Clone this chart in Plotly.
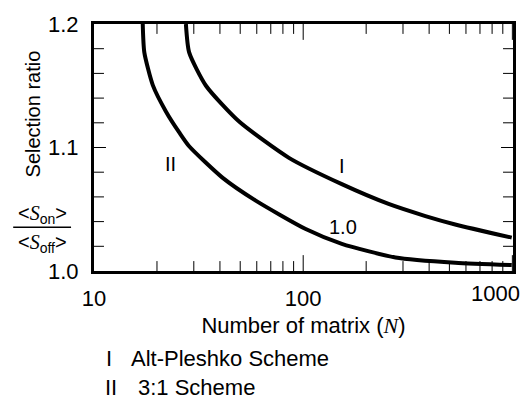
import math
import plotly.graph_objects as go

# Curve I: Alt-Pleshko scheme
n_alt = [27.5, 28.5, 34.3, 49.4, 85.5, 153, 256, 384, 533, 993]
ratio_alt = [1.200, 1.177, 1.150, 1.121, 1.0916, 1.0703, 1.0543, 1.0445, 1.0377, 1.027]

# Curve II: 3:1 scheme
n_31 = [17.1, 17.4, 19.1, 22.1, 25.6, 28.5, 41.1, 59.3, 102.8, 153, 276, 533, 993]
ratio_31 = [1.200, 1.177, 1.1505, 1.129, 1.112, 1.101, 1.0756, 1.057, 1.034, 1.022,
            1.011, 1.0067, 1.0048]

x_major = [10, 100, 1000]
x_major_text = ["10", "100", ""]
x_minor = [20, 30, 40, 50, 60, 70, 80, 90, 200, 300, 400, 500, 600, 700, 800, 900]
y_major = [1.0, 1.1, 1.2]
y_major_text = ["1.0", "1.1", "1.2"]
y_minor = [1.02, 1.04, 1.06, 1.08, 1.12, 1.14, 1.16, 1.18]

W, H = 528, 399
ML, MR, MT, MB = 94, 14, 22, 128
PW, PH = W - ML - MR, H - MT - MB
FONT = "Liberation Sans"
SERIF = "Liberation Serif"
FS = 22
FS_SMALL = 20
X_RANGE = [1, 3.003]
Y_RANGE = [1.0, 1.2]


def px(x):
    return (x - ML) / PW


def py(y):
    return (H - MB - y) / PH


def it(s):
    return f"<span style='font-family:{SERIF}'><i>{s}</i></span>"


# tick lengths in pixels, converted to axis units
Y_PER_PX = (Y_RANGE[1] - Y_RANGE[0]) / PH
DEC_PER_PX = (X_RANGE[1] - X_RANGE[0]) / PW

tick_x, tick_y = [], []
for vals, length in [(x_major[1:], 16), (x_minor, 10)]:
    dy = length * Y_PER_PX
    for v in vals:
        tick_x += [v, v, None, v, v, None]
        tick_y += [Y_RANGE[0], Y_RANGE[0] + dy, None, Y_RANGE[1], Y_RANGE[1] - dy, None]
for vals, length in [(y_major[1:-1], 12), (y_minor, 10)]:
    dd = length * DEC_PER_PX
    for v in vals:
        tick_x += [10 ** X_RANGE[0], 10 ** (X_RANGE[0] + dd), None,
                   10 ** X_RANGE[1], 10 ** (X_RANGE[1] - dd), None]
        tick_y += [v, v, None, v, v, None]

fig = go.Figure()
fig.add_trace(go.Scatter(x=tick_x, y=tick_y, mode="lines",
                         line=dict(color="black", width=1),
                         showlegend=False, hoverinfo="skip"))
for xs, ys in [(n_alt, ratio_alt), (n_31, ratio_31)]:
    fig.add_trace(go.Scatter(
        x=xs, y=ys, mode="lines",
        line=dict(color="black", width=4, shape="spline", smoothing=0.6),
        showlegend=False, hoverinfo="skip",
    ))

fig.update_layout(
    xaxis=dict(
        type="log", range=X_RANGE,
        tickmode="array", tickvals=x_major, ticktext=x_major_text, ticks="",
        mirror=True, showline=True, linewidth=3, linecolor="black",
        showgrid=False, zeroline=False, ticklabelstandoff=6,
        tickfont=dict(family=FONT, size=FS, color="black"),
        title=dict(text=f"Number of matrix ({it('N')})",
                   font=dict(family=FONT, size=FS, color="black"), standoff=8),
    ),
    yaxis=dict(
        range=Y_RANGE,
        tickmode="array", tickvals=y_major, ticktext=y_major_text, ticks="",
        mirror=True, showline=True, linewidth=3, linecolor="black",
        showgrid=False, zeroline=False, ticklabelstandoff=8,
        tickfont=dict(family=FONT, size=FS, color="black"),
    ),
)

txt = dict(family=FONT, size=FS, color="black")
txt_s = dict(family=FONT, size=FS_SMALL, color="black")
ann = []
# right-most x tick label, kept inside the page
ann.append(dict(x=math.log10(x_major[-1]), y=0, xref="x", yref="paper", text="1000",
                showarrow=False, xanchor="right", yanchor="top", xshift=10, yshift=-8,
                font=txt))
# curve labels
ann.append(dict(x=2.185, y=1.085, xref="x", yref="y", text="I",
                showarrow=False, font=txt_s))
ann.append(dict(x=1.367, y=1.087, xref="x", yref="y", text="II",
                showarrow=False, font=txt_s))
ann.append(dict(x=2.19, y=1.0355, xref="x", yref="y", text="1.0",
                showarrow=False, font=txt_s))
# y-axis title
ann.append(dict(x=px(33), y=py(113), xref="paper", yref="paper",
                text="Selection ratio", textangle=-90, showarrow=False,
                xanchor="center", yanchor="middle", font=txt_s))
ann.append(dict(x=px(42), y=py(214), xref="paper", yref="paper",
                text=f"&lt;{it('S')}<sub>on</sub>&gt;", showarrow=False,
                xanchor="center", yanchor="middle", font=txt_s))
ann.append(dict(x=px(42), y=py(243), xref="paper", yref="paper",
                text=f"&lt;{it('S')}<sub>off</sub>&gt;", showarrow=False,
                xanchor="center", yanchor="middle", font=txt_s))
# scheme key
for numeral, label, xn, xl, yc in [("I", "Alt-Pleshko Scheme", 104, 129, 359),
                                   ("II", "3:1 Scheme", 103, 136, 388)]:
    ann.append(dict(x=px(xn), y=py(yc), xref="paper", yref="paper", text=numeral,
                    showarrow=False, xanchor="left", yanchor="middle", font=txt))
    ann.append(dict(x=px(xl), y=py(yc), xref="paper", yref="paper", text=label,
                    showarrow=False, xanchor="left", yanchor="middle", font=txt))

fig.update_layout(
    width=W, height=H,
    margin=dict(l=ML, r=MR, t=MT, b=MB),
    paper_bgcolor="white", plot_bgcolor="white",
    annotations=ann,
    shapes=[dict(type="line", xref="paper", yref="paper",
                 x0=px(13), x1=px(71), y0=py(227), y1=py(227),
                 line=dict(color="black", width=1.5))],
)

fig.write_html("out.html")
